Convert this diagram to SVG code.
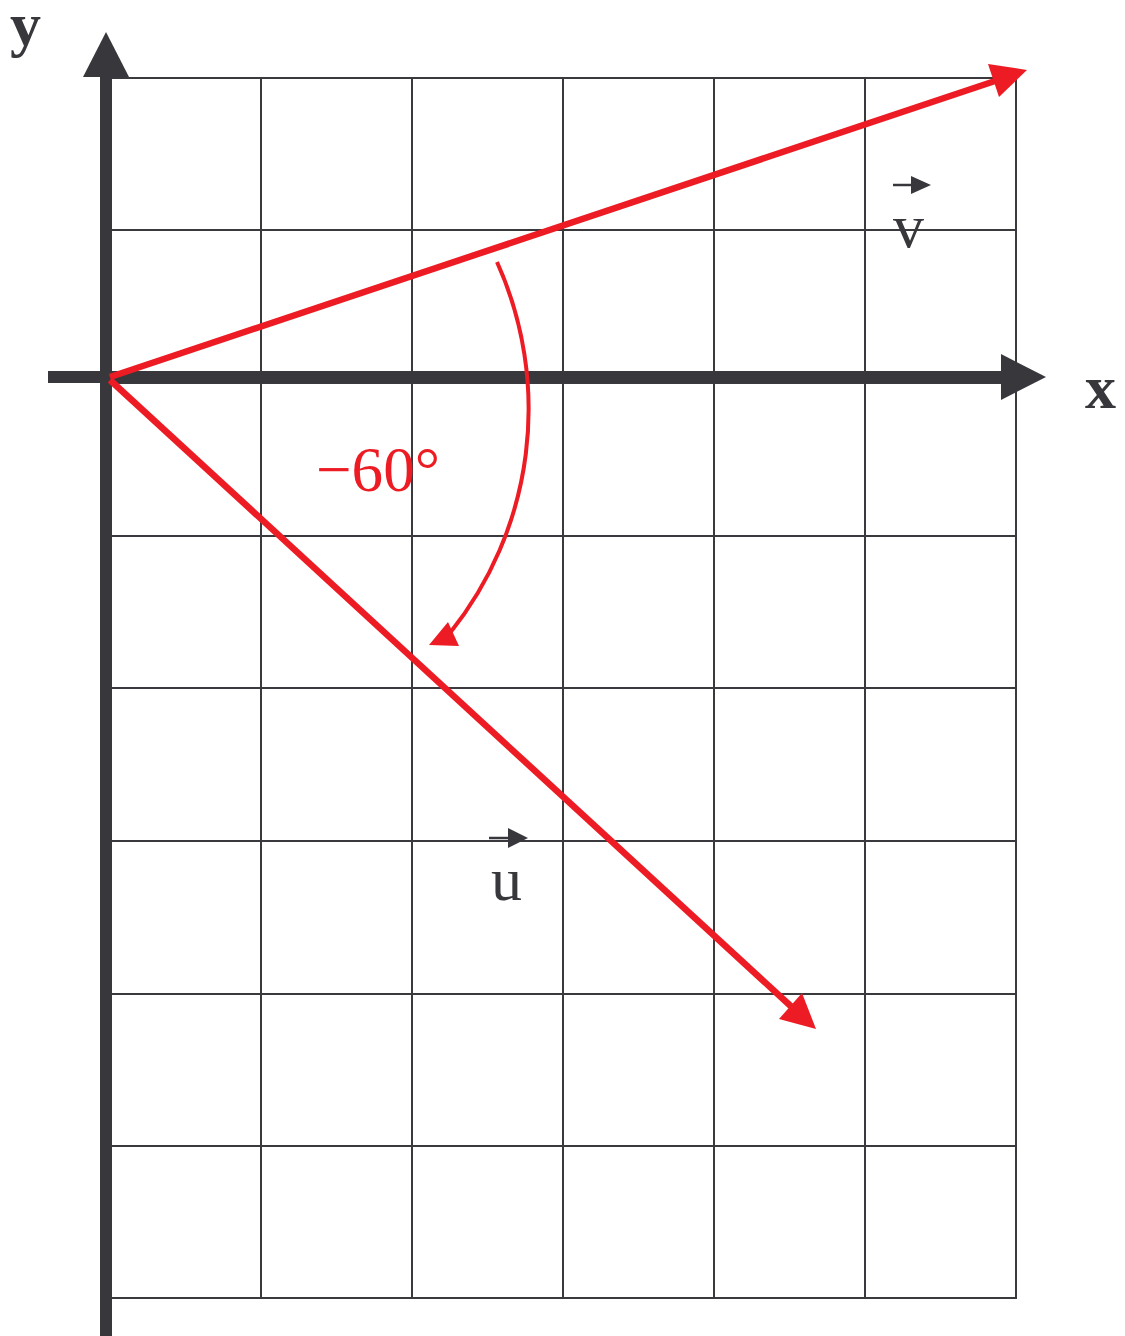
<svg xmlns="http://www.w3.org/2000/svg" width="1125" height="1336" viewBox="0 0 1125 1336">
<style>
.grid{stroke:#3a393e;stroke-width:2;fill:none}
.axis{stroke:#38373c;stroke-width:12;fill:none}
.axhead{fill:#38373c}
.vec{stroke:#ed1c24;stroke-width:6.5;fill:none}
.red{fill:#ed1c24}
.lbl{font-family:"Liberation Serif","Times New Roman",serif;fill:#38373c}
.blbl{font-family:"Liberation Serif","Times New Roman",serif;font-weight:bold;fill:#38373c}
</style>
<rect width="1125" height="1336" fill="#fff"/>
<g id="grid">
<path class="grid" d="M261,78V1299M412,78V1299M563,78V1299M714,78V1299M865,78V1299M1016,78V1299"/>
<path class="grid" d="M106,78H1017M106,230H1017M106,383H1017M106,536H1017M106,688H1017M106,841H1017M106,994H1017M106,1146H1017M106,1298H1017"/>
</g>
<g id="axes">
<line class="axis" x1="106" y1="1336" x2="106" y2="74"/>
<polygon class="axhead" points="83,77 129,77 106,32"/>
<line class="axis" x1="48" y1="377" x2="1004" y2="377"/>
<polygon class="axhead" points="1001,354 1001,400 1046,377"/>
<text class="blbl" x="10" y="45" font-size="62">y</text>
<text class="blbl" x="1085" y="408" font-size="62">x</text>
</g>
<g id="connectors">
<line class="vec" x1="110" y1="377" x2="998" y2="80"/>
<polygon class="red" points="1027,70 988,64 999,97"/>
<line class="vec" x1="110" y1="380" x2="795" y2="1010"/>
<polygon class="red" points="816,1029 779,1019 802,993"/>
<path d="M497,262 A358,358 0 0 1 450,633" stroke="#ed1c24" stroke-width="4" fill="none"/>
<polygon class="red" points="429,645 448,622 459,646"/>
</g>
<g id="angle-label">
<text x="316" y="491" font-family="'Liberation Serif','Times New Roman',serif" font-size="64" fill="#ed1c24" textLength="124" lengthAdjust="spacingAndGlyphs">−60°</text>
</g>
<g id="v-label">
<line x1="893" y1="185" x2="913" y2="185" stroke="#38373c" stroke-width="2.5"/>
<polygon class="axhead" points="911,176 911,194 931,185"/>
<text class="lbl" x="893" y="247" font-size="62">v</text>
</g>
<g id="u-label">
<line x1="489" y1="838" x2="510" y2="838" stroke="#38373c" stroke-width="2.5"/>
<polygon class="axhead" points="508,828 508,848 528,838"/>
<text class="lbl" x="491" y="900" font-size="62">u</text>
</g>
</svg>
